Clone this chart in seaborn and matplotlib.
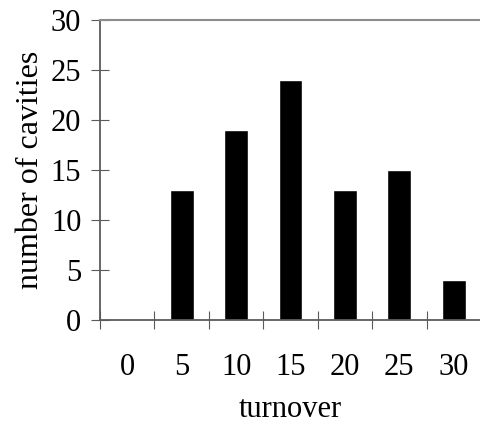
import matplotlib
matplotlib.use("Agg")
import matplotlib.pyplot as plt
import numpy as np
import pandas as pd
import seaborn as sns

turnover = ["0", "5", "10", "15", "20", "25", "30"]
cavities = [0, 13, 19, 24, 13, 15, 4]
y_ticks = [0, 5, 10, 15, 20, 25, 30]

sns.set_theme(style="white")
plt.rcParams["font.family"] = ["Liberation Serif", "DejaVu Serif"]

df = pd.DataFrame({"turnover": turnover, "cavities": cavities})

fig = plt.figure(figsize=(4.81, 4.25), dpi=100)
ax = fig.add_axes([100 / 481, 105 / 425, 381 / 481, 300 / 425])

sns.barplot(data=df, x="turnover", y="cavities", order=turnover,
            color="black", width=0.44, saturation=1, ax=ax)

ax.set_xlim(-0.5, -0.5 + 381 / 55)
ax.set_ylim(0, 30)
ax.set_yticks(y_ticks)

axis_col = "#5a5a5a"
for side in ["left", "bottom"]:
    ax.spines[side].set_color(axis_col)
    ax.spines[side].set_linewidth(1.3)
ax.spines["right"].set_visible(False)
ax.spines["top"].set_color("#8c8c8c")
ax.spines["top"].set_linewidth(1.5)

ax.tick_params(axis="y", which="major", direction="inout", length=13, width=0.8,
               color=axis_col, labelsize=22, pad=7, labelcolor="black", left=True)
ax.tick_params(axis="x", which="major", length=0, labelsize=22, pad=24,
               labelcolor="black", bottom=True)
ax.set_xticks(np.arange(-0.5, 7, 1), minor=True)
ax.tick_params(axis="x", which="minor", direction="inout", length=13, width=0.8,
               color=axis_col, bottom=True)

ax.set_xlabel("turnover", fontsize=22, labelpad=9, color="black")
ax.set_ylabel("number of cavities", fontsize=23, labelpad=4, color="black")

fig.savefig("out.png", dpi=100, facecolor="white")
